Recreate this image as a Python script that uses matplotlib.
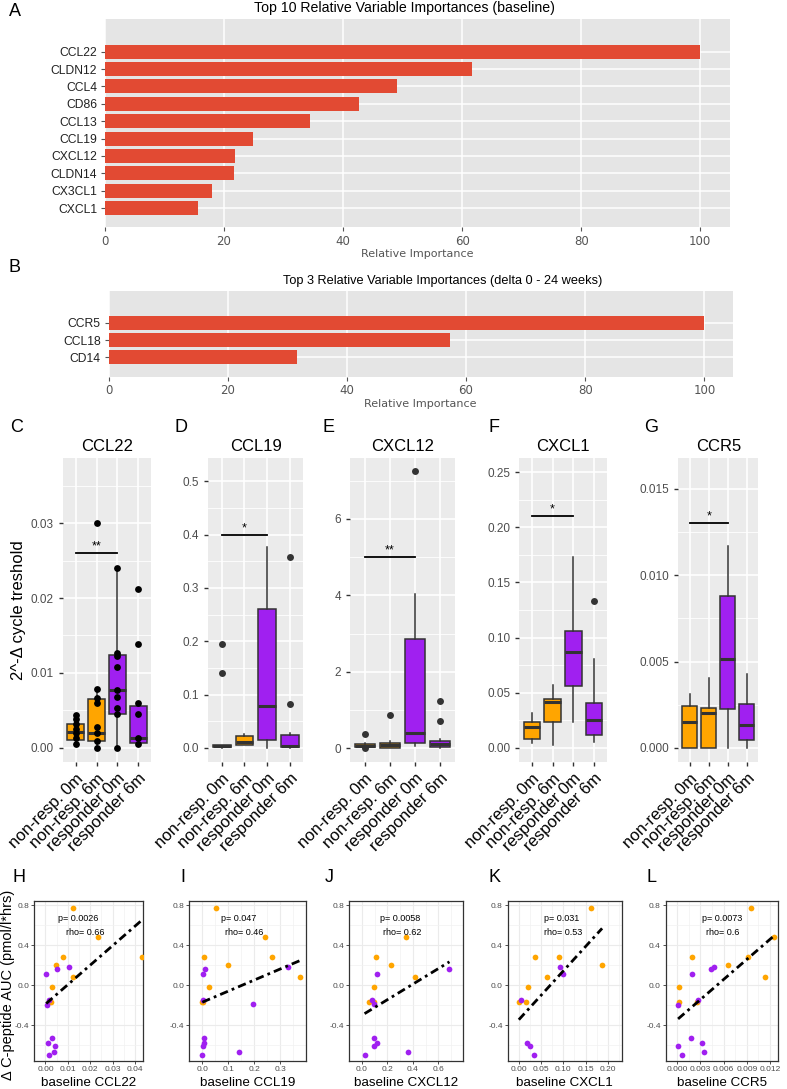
import matplotlib
matplotlib.use('Agg')
import matplotlib.pyplot as plt
import numpy as np

plt.rcParams['font.family'] = ['Liberation Sans', 'DejaVu Sans']

# ---------------- data ----------------
# A / B : relative variable importances
base_genes = ['CCL22', 'CLDN12', 'CCL4', 'CD86', 'CCL13', 'CCL19', 'CXCL12', 'CLDN14', 'CX3CL1', 'CXCL1']
base_importance = [100, 61.7, 49.0, 42.6, 34.5, 24.8, 21.8, 21.6, 18.0, 15.7]
delta_genes = ['CCR5', 'CCL18', 'CD14']
delta_importance = [100, 57.3, 31.6]

# C - G : boxplots, (whisker low, q1, median, q3, whisker high) per group
groups = ['non-resp. 0m', 'non-resp. 6m', 'responder 0m', 'responder 6m']
ccl22_box = [(0.0005, 0.00103, 0.0021, 0.0031, 0.0044), (0.0, 0.0009, 0.0019, 0.0065, 0.0079),
             (0.0, 0.0045, 0.0077, 0.0124, 0.024), (0.0005, 0.0006, 0.00125, 0.0056, 0.0059)]
ccl22_points = [[0.0044, 0.0038, 0.0031, 0.0025, 0.0019, 0.00125, 0.0005],
                [0.030, 0.0079, 0.0066, 0.006, 0.0028, 0.0019, 0.0009, 0.0],
                [0.024, 0.0127, 0.0122, 0.0108, 0.0077, 0.0068, 0.0053, 0.0045, 0.0],
                [0.0212, 0.0139, 0.0059, 0.0045, 0.0013, 0.0005]]
ccl19_box = [(0.0, 0.001, 0.003, 0.005, 0.006), (0.005, 0.005, 0.011, 0.0225, 0.0257),
             (0.0, 0.0144, 0.0788, 0.26, 0.376), (0.0, 0.001, 0.003, 0.0238, 0.028)]
ccl19_out = [[0.195, 0.14], [], [], [0.357, 0.083]]
cxcl12_box = [(0.02, 0.04, 0.07, 0.12, 0.15), (0.0, 0.02, 0.08, 0.15, 0.18),
              (0.05, 0.13, 0.39, 2.85, 4.03), (0.0, 0.04, 0.12, 0.19, 0.25)]
cxcl12_out = [[0.37, 0.0], [0.87], [7.24], [1.24, 0.72]]
cxcl1_box = [(0.0043, 0.0079, 0.0193, 0.0233, 0.0315), (0.0027, 0.0233, 0.042, 0.0444, 0.057),
             (0.0239, 0.0565, 0.0868, 0.1055, 0.173), (0.0057, 0.0118, 0.0254, 0.041, 0.0807)]
cxcl1_out = [[], [], [], [0.1327]]
ccr5_box = [(0.0, 0.0, 0.00152, 0.00243, 0.0031), (0.0, 0.0, 0.002, 0.0023, 0.00404),
            (0.0, 0.00226, 0.00516, 0.00877, 0.0117), (0.0, 0.00046, 0.00133, 0.00255, 0.00427)]
ccr5_out = [[], [], [], []]
sig_labels = ['**', '*', '**', '*', '*']
sig_heights = [0.026, 0.4, 5.0, 0.21, 0.013]

# H - L : baseline expression vs delta C-peptide AUC
ccl22_nr_x = [0.01225, 0.0233, 0.0433, 0.00767, 0.00458, 0.0125, 0.0029, 0.0014, 0.0025]
ccl22_nr_y = [0.773, 0.477, 0.277, 0.283, 0.2, 0.077, -0.02, -0.173, -0.173]
ccl22_r_x = [0.0003, 0.0053, 0.0107, 0.0007, 0.0015, 0.0031, 0.0011, 0.0043, 0.0039, 0.0014]
ccl22_r_y = [0.107, 0.16, 0.18, -0.2, -0.15, -0.533, -0.583, -0.61, -0.673, -0.70]
ccl19_nr_x = [0.052, 0.243, 0.2675, 0.377, 0.0084, 0.1, 0.0266, 0.002, 0.0]
ccl19_nr_y = [0.773, 0.477, 0.277, 0.077, 0.283, 0.2, -0.02, -0.173, -0.173]
ccl19_r_x = [0.012, 0.0036, 0.33, 0.195, 0.002, 0.005, 0.005, 0.004, 0.14, 0.0]
ccl19_r_y = [0.16, 0.107, 0.183, -0.193, -0.15, -0.533, -0.583, -0.61, -0.673, -0.70]
cxcl12_nr_x = [0.35, 0.109, 0.23, 0.416, 0.092, 0.056, 0.092]
cxcl12_nr_y = [0.477, 0.283, 0.2, 0.077, -0.02, -0.173, -0.173]
cxcl12_r_x = [0.121, 0.688, 0.078, 0.097, 0.097, 0.116, 0.097, 0.362, 0.02]
cxcl12_r_y = [0.107, 0.16, -0.15, -0.19, -0.533, -0.583, -0.61, -0.673, -0.70]
cxcl1_nr_x = [0.162, 0.037, 0.091, 0.187, 0.063, 0.021, 0.016, 0.0]
cxcl1_nr_y = [0.773, 0.283, 0.277, 0.2, 0.077, -0.02, -0.173, -0.173]
cxcl1_r_x = [0.093, 0.0985, 0.004, 0.0185, 0.0255, 0.035]
cxcl1_r_y = [0.177, 0.107, -0.15, -0.583, -0.61, -0.70]
ccr5_nr_x = [0.0095, 0.0125, 0.0091, 0.0066, 0.0113, 0.0019, 0.0002, 0.0002, 0.0025]
ccr5_nr_y = [0.773, 0.477, 0.277, 0.2, 0.077, 0.283, -0.02, -0.173, -0.173]
ccr5_r_x = [0.0044, 0.0047, 0.0019, 0.0027, 0.0001, 0.0018, 0.0001, 0.0032, 0.0035, 0.0006]
ccr5_r_y = [0.16, 0.177, 0.107, -0.15, -0.2, -0.533, -0.61, -0.583, -0.673, -0.70]
# fitted lines (intercept, slope) and stats as printed
fit_lines = [(-0.191, 19.49), (-0.172, 1.107), (-0.302, 0.776), (-0.347, 4.884), (-0.346, 66.9)]
p_values = ['0.0026', '0.047', '0.0058', '0.031', '0.0073']
rho_values = ['0.66', '0.46', '0.62', '0.53', '0.6']

ORANGE = '#FFA500'
PURPLE = '#A020F0'
group_colors = [ORANGE, ORANGE, PURPLE, PURPLE]

# ---------------- layout helpers ----------------
W, H = 787, 1089
fig = plt.figure(figsize=(W / 100, H / 100), dpi=100)


def px_axes(x0, y0, x1, y1):
    return fig.add_axes([x0 / W, 1 - y1 / H, (x1 - x0) / W, (y1 - y0) / H])


def fig_text(x, y, s, **kw):
    return fig.text(x / W, 1 - y / H, s, **kw)


def letter(x, y, s):
    fig_text(x, y, s, fontsize=13, ha='left', va='center')


# ---------------- A / B ----------------
def importance_panel(ax, genes, vals, xmax, ylim):
    pos = np.arange(len(genes))[::-1]
    ax.set_facecolor('#E5E5E5')
    ax.set_axisbelow(True)
    ax.barh(pos, vals, height=0.8, color='#E24A33')
    ax.set_xlim(0, xmax)
    ax.set_ylim(*ylim)
    ax.set_yticks(pos)
    ax.set_yticklabels(genes, fontsize=8.7, color='#222222')
    ax.set_xticks([0, 20, 40, 60, 80, 100])
    ax.set_xticklabels(['0', '20', '40', '60', '80', '100'], fontsize=8.5, color='#555555',
                       family='DejaVu Sans')
    ax.grid(color='white', lw=1.1)
    for s in ax.spines.values():
        s.set_visible(False)
    ax.tick_params(length=3, color='#555555', width=0.8, pad=2.5)
    ax.set_xlabel('Relative Importance', fontsize=8, color='#555555', family='DejaVu Sans', labelpad=1)


axA = px_axes(105, 19, 730, 227)
importance_panel(axA, base_genes, base_importance, 105.0, (-1.09, 10.88))
fig_text(404, 8, 'Top 10 Relative Variable Importances (baseline)', fontsize=10.2,
         ha='center', va='center')
letter(9, 12, 'A')

axB = px_axes(108.5, 290.7, 733, 376.7)
importance_panel(axB, delta_genes, delta_importance, 104.8, (-1.12, 3.85))
fig_text(443, 281, 'Top 3 Relative Variable Importances (delta 0 - 24 weeks)',
         fontsize=9.2, ha='center', va='center')
letter(9, 268, 'B')


# ---------------- C - G ----------------
def box_panel(ax, title, boxes, fliers, ylim, yticks, ylabels, sig_y, sig_txt):
    ax.set_facecolor('#EBEBEB')
    ax.set_axisbelow(True)
    stats = []
    for (lo, q1, med, q3, hi), fl in zip(boxes, fliers):
        stats.append(dict(whislo=lo, q1=q1, med=med, q3=q3, whishi=hi, fliers=fl))
    bp = ax.bxp(stats, positions=[1, 2, 3, 4], widths=0.78, patch_artist=True, showcaps=False,
                boxprops=dict(edgecolor='#333333', linewidth=1.1),
                medianprops=dict(color='#333333', linewidth=2.2, solid_capstyle='butt'),
                whiskerprops=dict(color='#333333', linewidth=1.1),
                flierprops=dict(marker='o', markerfacecolor='#333333', markeredgecolor='none',
                                markersize=5))
    for patch, c in zip(bp['boxes'], group_colors):
        patch.set_facecolor(c)
    ax.set_xlim(0.4, 4.6)
    ax.set_ylim(*ylim)
    ax.set_yticks(yticks)
    ax.set_yticklabels(ylabels, fontsize=8.5, color='#4D4D4D')
    step = yticks[1] - yticks[0]
    ax.set_yticks(np.arange(yticks[0] + step / 2, ylim[1], step), minor=True)
    ax.set_xticks([1, 2, 3, 4])
    ax.set_xticklabels(groups, rotation=45, ha='right', va='top', rotation_mode='anchor',
                       fontsize=12, color='black')
    ax.grid(which='major', color='white', lw=1.2)
    ax.grid(which='minor', axis='y', color='white', lw=0.6)
    ax.tick_params(which='major', length=3, color='#333333', width=1)
    ax.tick_params(which='minor', length=0)
    for s in ax.spines.values():
        s.set_visible(False)
    ax.plot([1, 3], [sig_y, sig_y], color='black', lw=1.3)
    ax.annotate(sig_txt, (2, sig_y), xytext=(0, 2.5), textcoords='offset points',
                ha='center', va='baseline', fontsize=9)
    ax.set_title(title, fontsize=12, pad=5)


box_layout = [(63, 151), (208.3, 303.3), (350, 455), (519.3, 606.7), (678.3, 758.3)]
box_titles = ['CCL22', 'CCL19', 'CXCL12', 'CXCL1', 'CCR5']
box_data = [ccl22_box, ccl19_box, cxcl12_box, cxcl1_box, ccr5_box]
box_fliers = [[[], [], [], []], ccl19_out, cxcl12_out, cxcl1_out, ccr5_out]
box_ylims = [(-0.0019, 0.0388), (-0.026, 0.544), (-0.35, 7.6), (-0.0125, 0.263), (-0.0008, 0.0168)]
box_yticks = [[0.0, 0.01, 0.02, 0.03], [0.0, 0.1, 0.2, 0.3, 0.4, 0.5], [0, 2, 4, 6],
              [0.0, 0.05, 0.10, 0.15, 0.20, 0.25], [0.0, 0.005, 0.010, 0.015]]
box_ylabels = [['0.00', '0.01', '0.02', '0.03'], ['0.0', '0.1', '0.2', '0.3', '0.4', '0.5'],
               ['0', '2', '4', '6'], ['0.00', '0.05', '0.10', '0.15', '0.20', '0.25'],
               ['0.000', '0.005', '0.010', '0.015']]
box_letters = [('C', 10), ('D', 175), ('E', 323), ('F', 488), ('G', 644)]

for i in range(5):
    x0, x1 = box_layout[i]
    ax = px_axes(x0, 457.7, x1, 761.7)
    box_panel(ax, box_titles[i], box_data[i], box_fliers[i], box_ylims[i], box_yticks[i],
              box_ylabels[i], sig_heights[i], sig_labels[i])
    if i == 0:
        for g, pts in enumerate(ccl22_points):
            ax.scatter(np.full(len(pts), g + 1), pts, s=24, color='black', zorder=4, linewidths=0)
    letter(box_letters[i][1], 427, box_letters[i][0])

fig_text(19, 609.7, '2^-Δ cycle treshold', rotation=90, fontsize=12, ha='center', va='center')

# ---------------- H - L ----------------
sc_layout = [(34.3, 143.3), (189.3, 305.7), (349.3, 463.3), (507.7, 621.7), (665.7, 777.7)]
sc_nr = [(ccl22_nr_x, ccl22_nr_y), (ccl19_nr_x, ccl19_nr_y), (cxcl12_nr_x, cxcl12_nr_y),
         (cxcl1_nr_x, cxcl1_nr_y), (ccr5_nr_x, ccr5_nr_y)]
sc_r = [(ccl22_r_x, ccl22_r_y), (ccl19_r_x, ccl19_r_y), (cxcl12_r_x, cxcl12_r_y),
        (cxcl1_r_x, cxcl1_r_y), (ccr5_r_x, ccr5_r_y)]
sc_xlims = [(-0.0017, 0.0437), (-0.027, 0.398), (-0.029, 0.797), (-0.0113, 0.231), (-0.0004, 0.0130)]
sc_xticks = [[0, 0.01, 0.02, 0.03, 0.04], [0, 0.1, 0.2, 0.3], [0, 0.2, 0.4, 0.6],
             [0, 0.05, 0.10, 0.15, 0.20], [0, 0.003, 0.006, 0.009, 0.012]]
sc_xlabels = [['0.00', '0.01', '0.02', '0.03', '0.04'], ['0.0', '0.1', '0.2', '0.3'],
              ['0.0', '0.2', '0.4', '0.6'], ['0.00', '0.05', '0.10', '0.15', '0.20'],
              ['0.000', '0.003', '0.006', '0.009', '0.012']]
sc_text_x = [(0.40, 0.47), (0.42, 0.47), (0.45, 0.46), (0.47, 0.49), (0.50, 0.51)]
sc_letters = [('H', 12), ('I', 180), ('J', 325), ('K', 488), ('L', 647)]

for i in range(5):
    x0, x1 = sc_layout[i]
    ax = px_axes(x0, 900.7, x1, 1061)
    ax.set_axisbelow(True)
    nx, ny = sc_nr[i]
    rx, ry = sc_r[i]
    ax.scatter(nx, ny, s=17, color=ORANGE, linewidths=0, zorder=3)
    ax.scatter(rx, ry, s=17, color=PURPLE, linewidths=0, zorder=3)
    allx = np.array(nx + rx)
    xs = np.array([allx.min(), allx.max()])
    b0, b1 = fit_lines[i]
    ax.plot(xs, b0 + b1 * xs, color='black', lw=2, ls=(0, (3, 1.5, 1, 1.5)), zorder=4)
    ax.set_xlim(*sc_xlims[i])
    ax.set_ylim(-0.76, 0.843)
    ax.set_xticks(sc_xticks[i])
    ax.set_xticklabels(sc_xlabels[i], fontsize=6, color='#4D4D4D')
    st = sc_xticks[i][1] - sc_xticks[i][0]
    ax.set_xticks(np.arange(-st / 2, sc_xlims[i][1], st), minor=True)
    ax.set_yticks([-0.4, 0.0, 0.4, 0.8])
    ax.set_yticklabels(['-0.4', '0.0', '0.4', '0.8'], fontsize=6, color='#4D4D4D')
    ax.set_yticks([-0.6, -0.2, 0.2, 0.6], minor=True)
    ax.grid(which='major', color='#EBEBEB', lw=0.8)
    ax.grid(which='minor', color='#F2F2F2', lw=0.5)
    ax.tick_params(which='major', length=2, width=0.6, color='#333333', pad=1.5)
    ax.tick_params(which='minor', length=0)
    for s in ax.spines.values():
        s.set_color('#333333')
        s.set_linewidth(0.9)
    ax.text(sc_text_x[i][0], 0.89, 'p= ' + p_values[i], transform=ax.transAxes, fontsize=6.5,
            ha='center', va='center')
    ax.text(sc_text_x[i][1], 0.80, 'rho= ' + rho_values[i], transform=ax.transAxes, fontsize=6.5,
            ha='center', va='center')
    ax.set_xlabel('baseline ' + box_titles[i], fontsize=9.6, labelpad=3)
    letter(sc_letters[i][1], 878, sc_letters[i][0])

fig_text(8, 985, 'Δ C-peptide AUC (pmol/l*hrs)', rotation=90, fontsize=10.5, ha='center', va='center')

fig.savefig('out.png', dpi=100)
